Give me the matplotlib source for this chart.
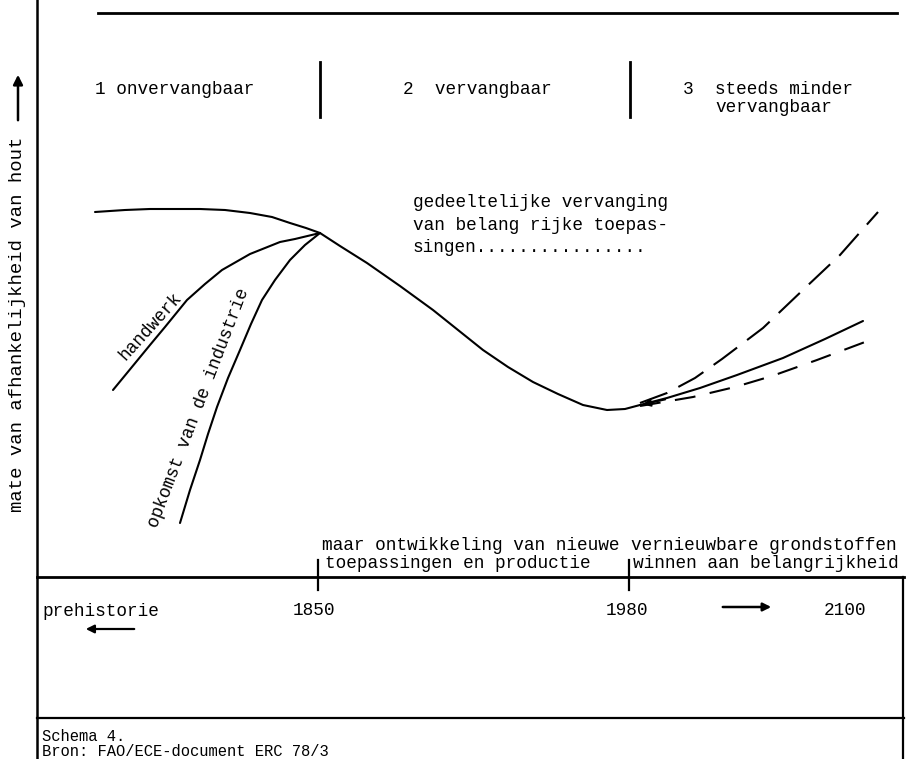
import numpy as np
import matplotlib
matplotlib.use("Agg")
import matplotlib.pyplot as plt

# ---------------- schematic data (x: time position, y: dependence on wood, 0 = time axis)
# main curve: prehistory -> 1850 -> minimum around 1980
main_x = [95, 125, 150, 175, 200, 225, 250, 272, 290, 306, 320, 340, 367, 400, 433,
          458, 483, 508, 533, 558, 583, 607, 625, 640]
main_y = [365, 367, 368, 368, 368, 367, 364, 360, 354, 349, 344, 331, 314, 291, 267,
          247, 227, 210, 195, 183, 172, 167, 168, 172]

# branches after 1980
solid_x = [640, 667, 700, 737, 783, 825, 863]
solid_y = [172, 179, 189, 202, 219, 238, 256]
high_x = [640, 667, 695, 722, 763, 805, 840, 878]
high_y = [174, 184, 199, 218, 249, 289, 322, 365]
low_x = [640, 693, 735, 772, 817, 865]
low_y = [171, 180, 190, 201, 217, 235]

# handcraft and rise of industry, converging at 1850
hand_x = [113, 127, 150, 165, 187, 205, 222, 236, 250, 265, 280, 295, 320]
hand_y = [187, 204, 232, 250, 277, 293, 307, 315, 323, 329, 335, 338, 344]
ind_x = [180, 190, 200, 208, 217, 228, 240, 251, 262, 275, 290, 305, 320]
ind_y = [54, 87, 117, 143, 170, 199, 227, 253, 277, 297, 317, 332, 344]

# time axis
tick_x = [318, 629]
tick_lab = ['1850', '1980']
tick_lab_x = [314, 627]

phases = ['1 onvervangbaar', '2  vervangbaar', '3  steeds minder']
phase_x = [95, 403, 683]
divider_x = [320, 630]

BASE = 577  # pixel row of the time axis


def Y(py):
    # pixel row -> data y
    return BASE - py


plt.rcParams['font.family'] = ['Liberation Mono', 'DejaVu Sans Mono']
fs = 12.8

fig = plt.figure(figsize=(9.06, 7.59), dpi=100)
ax = fig.add_axes([0, 0, 1, 1])
ax.set_xlim(0, 906)
ax.set_ylim(Y(759), Y(0))
ax.axis('off')

k = 'black'
# frame lines
ax.plot([37, 37], [Y(0), Y(759)], color=k, lw=1.8)
ax.plot([98, 897], [Y(13), Y(13)], color=k, lw=2.0)
ax.plot([37, 904], [0, 0], color=k, lw=2.0)
ax.plot([903, 903], [0, Y(759)], color=k, lw=1.6)
ax.plot([37, 904], [Y(718), Y(718)], color=k, lw=1.6)
for dx in divider_x:
    ax.plot([dx, dx], [Y(62), Y(117)], color=k, lw=2.0)
for tx in tick_x:
    ax.plot([tx, tx], [Y(560), Y(590)], color=k, lw=1.6)

# curves
lkw = dict(color=k, lw=1.5, solid_joinstyle='round', solid_capstyle='round')
ax.plot(main_x, main_y, **lkw)
ax.plot(solid_x, solid_y, **lkw)
ax.plot(high_x, high_y, color=k, lw=1.5, linestyle=(0, (14, 6)))
ax.plot(low_x, low_y, color=k, lw=1.5, linestyle=(0, (10, 7)))
ax.plot(hand_x, hand_y, **lkw)
ax.plot(ind_x, ind_y, **lkw)
ax.annotate('', xy=(640, Y(405)), xytext=(668, Y(399)),
            arrowprops=dict(arrowstyle='-|>', color=k, lw=1.2, mutation_scale=12))

# phase labels
for lab, px in zip(phases, phase_x):
    ax.text(px, Y(94), lab, fontsize=fs, va='baseline', ha='left')
ax.text(715, Y(112), 'vervangbaar', fontsize=fs, va='baseline', ha='left')

ax.text(413, Y(207), 'gedeeltelijke vervanging', fontsize=fs, va='baseline')
ax.text(413, Y(230), 'van belang rijke toepas-', fontsize=fs, va='baseline')
ax.text(413, Y(252), 'singen' + '.' * 16, fontsize=fs, va='baseline')

ax.text(150, Y(326), 'handwerk', fontsize=fs, rotation=48,
        rotation_mode='anchor', ha='center', va='center')
ax.text(199, Y(408), 'opkomst van de industrie', fontsize=fs, rotation=69,
        rotation_mode='anchor', ha='center', va='center')

# y label with arrow
ax.text(18, Y(324), 'mate van afhankelijkheid van hout', fontsize=13.6,
        rotation=90, ha='center', va='center')
ax.annotate('', xy=(18, Y(72)), xytext=(18, Y(123)),
            arrowprops=dict(arrowstyle='-|>', color=k, lw=1.8, mutation_scale=14))

# texts on the time axis
ax.text(322, Y(550), 'maar ontwikkeling van nieuwe', fontsize=fs, va='baseline')
ax.text(631, Y(550), 'vernieuwbare grondstoffen', fontsize=fs, va='baseline')
ax.text(325, Y(568), 'toepassingen en productie', fontsize=fs, va='baseline')
ax.text(633, Y(568), 'winnen aan belangrijkheid', fontsize=fs, va='baseline')

ax.text(42, Y(616), 'prehistorie', fontsize=fs, va='baseline')
for lab, lx in zip(tick_lab, tick_lab_x):
    ax.text(lx, Y(615), lab, fontsize=fs, va='baseline', ha='center')
ax.text(845, Y(615), '2100', fontsize=fs, va='baseline', ha='center')

ax.annotate('', xy=(83, Y(629)), xytext=(137, Y(629)),
            arrowprops=dict(arrowstyle='-|>', color=k, lw=1.6, mutation_scale=12))
ax.annotate('', xy=(774, Y(607)), xytext=(720, Y(607)),
            arrowprops=dict(arrowstyle='-|>', color=k, lw=1.8, mutation_scale=12))

# source box
ax.text(42, Y(741), 'Schema 4.', fontsize=11.2, va='baseline')
ax.text(42, Y(756), 'Bron: FAO/ECE-document ERC 78/3', fontsize=11.2, va='baseline')

fig.savefig('out.png', dpi=100, facecolor='white')
